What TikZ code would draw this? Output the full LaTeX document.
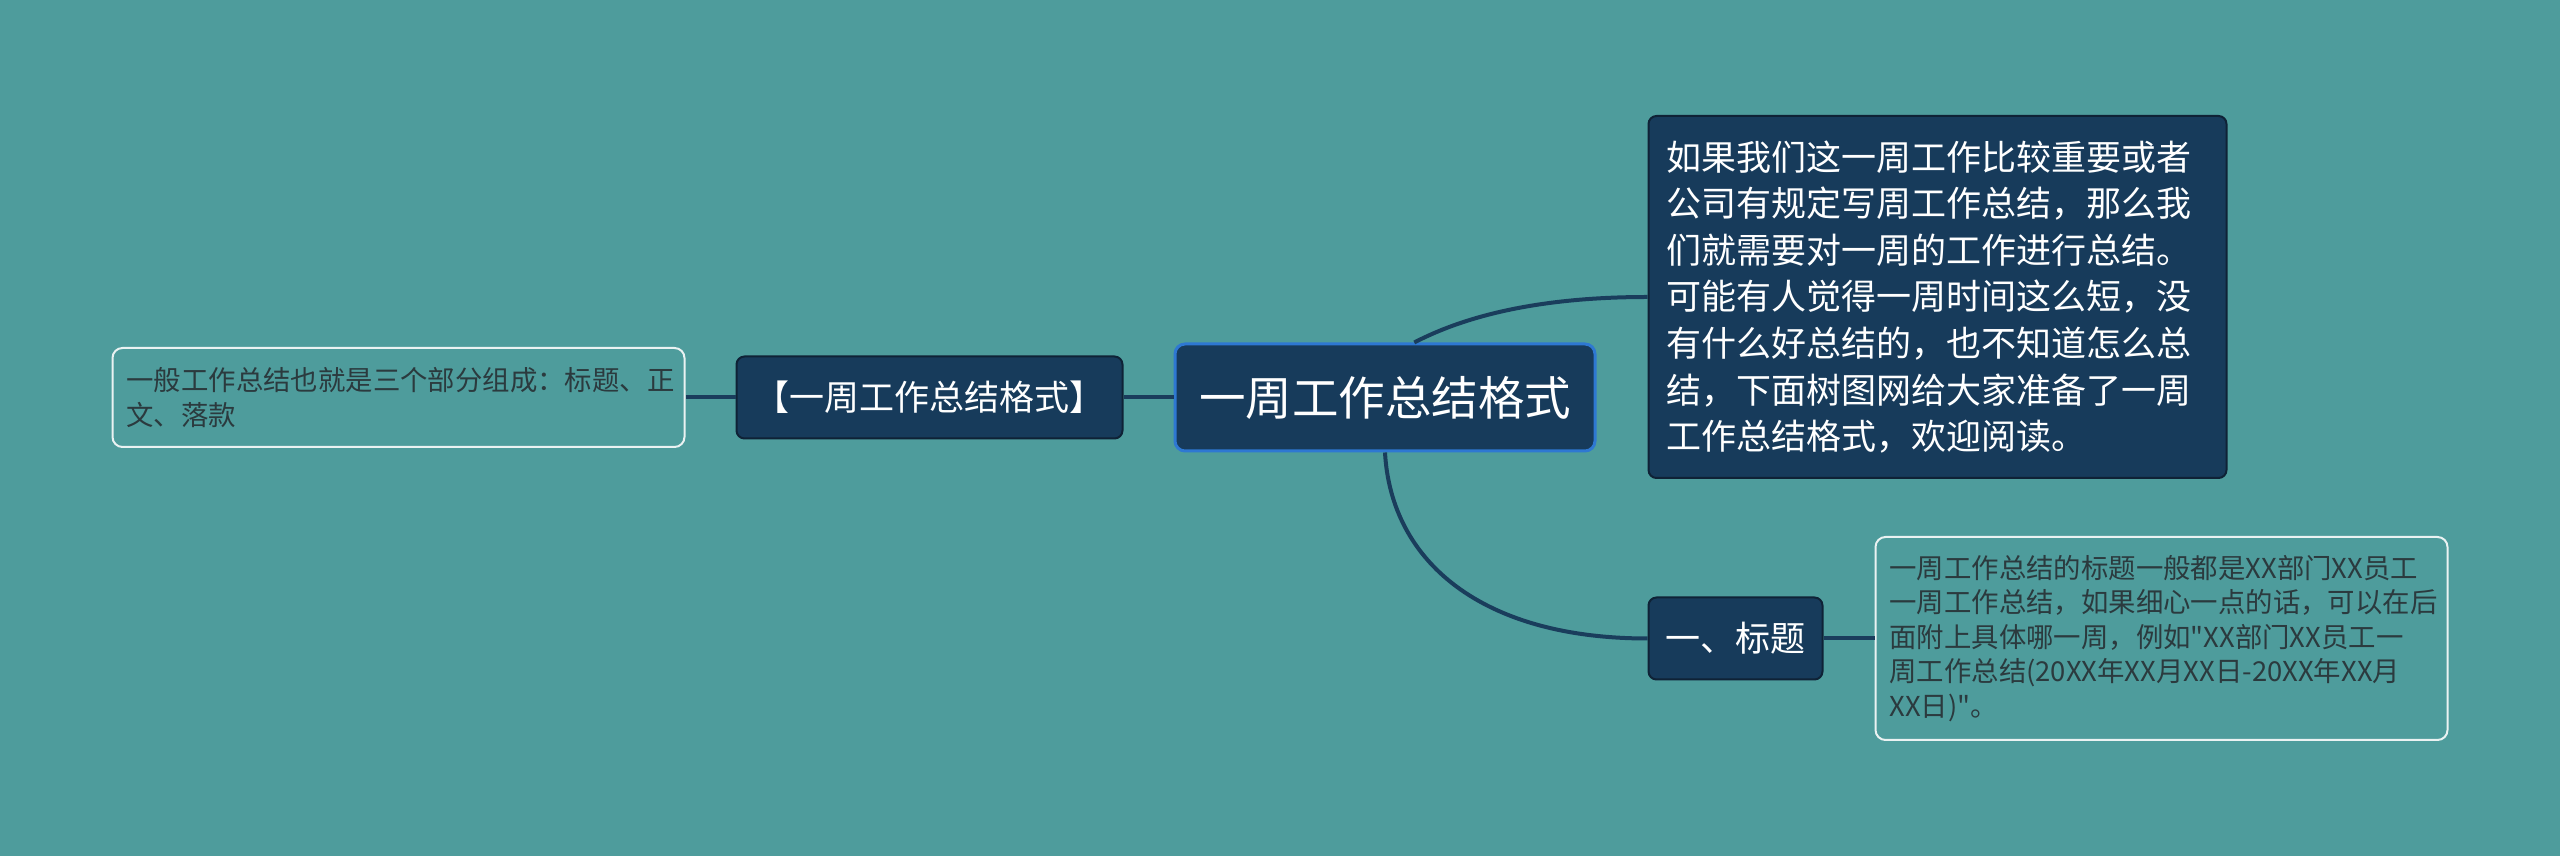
\documentclass[tikz,border=0pt]{standalone}
\usepackage{fontspec}
\usepackage{tikz}
\usetikzlibrary{positioning}
\newfontfamily\cjk{Noto Sans CJK SC}
\definecolor{backdrop}{HTML}{4E9C9C}
\definecolor{navy}{HTML}{173B5B}
\definecolor{mainline}{HTML}{2E78D2}
\definecolor{topicline}{HTML}{0F2236}
\definecolor{linkcolor}{HTML}{1A3D5C}
\definecolor{noteline}{HTML}{EAF2F2}
\definecolor{notetext}{HTML}{2B3A3E}

\begin{document}
\begin{tikzpicture}[
    central/.style={draw=mainline, line width=1.5pt, fill=navy, rounded corners=5pt, text=white, font=\cjk\fontsize{23.25pt}{27pt}\selectfont, minimum width=210pt, minimum height=53.5pt, inner sep=0pt},
    topic/.style={draw=topicline, line width=1pt, fill=navy, rounded corners=4pt, text=white, font=\cjk\fontsize{17.5pt}{20pt}\selectfont, minimum height=41pt, inner sep=0pt},
    detail/.style={draw=topicline, line width=1pt, fill=navy, rounded corners=4pt, text=white, font=\cjk\fontsize{17.5pt}{23.3pt}\selectfont, align=left, text width=271pt, inner xsep=9pt, inner ysep=0pt, minimum height=181pt},
    note/.style={draw=noteline, line width=1pt, fill=backdrop, rounded corners=5pt, text=notetext, font=\cjk\fontsize{13.7pt}{17.3pt}\selectfont, align=left, text width=272pt, inner xsep=7pt, inner ysep=0pt},
    link/.style={line width=2pt, color=linkcolor}
]
    \useasboundingbox (0,0) rectangle (1280pt,428pt);
    \fill[backdrop] (0,0) rectangle (1280pt,428pt);

    \node[central] (main) at (692.5pt,229.25pt) {一周工作总结格式};
    \node[topic, minimum width=193pt, left=25pt of main] (format) {【一周工作总结格式】};
    \node[note, minimum height=49.5pt, left=25pt of format] (formatnote) {一般工作总结也就是三个部分组成：标题、正\\文、落款};

    \node[detail, right=25.5pt of main, yshift=50.25pt] (intro) {如果我们这一周工作比较重要或者\\公司有规定写周工作总结，那么我\\们就需要对一周的工作进行总结。\\可能有人觉得一周时间这么短，没\\有什么好总结的，也不知道怎么总\\结，下面树图网给大家准备了一周\\工作总结格式，欢迎阅读。};
    \node[topic, minimum width=87pt, right=25.5pt of main, yshift=-120.5pt] (title) {一、标题};
    \node[note, minimum height=101.5pt, right=25.5pt of title] (titlenote) {一周工作总结的标题一般都是XX部门XX员工\\一周工作总结，如果细心一点的话，可以在后\\面附上具体哪一周，例如"XX部门XX员工一\\周工作总结(20XX年XX月XX日-20XX年XX月\\XX日)"。};

    \draw[link] (main.west) -- (format.east);
    \draw[link] (format.west) -- (formatnote.east);
    \draw[link] (main.62) .. controls +(25pt,13pt) and +(-55pt,0pt) .. (intro.west);
    \draw[link] (main.south) .. controls +(3pt,-54.5pt) and +(-83pt,0pt) .. (title.west);
    \draw[link] (title.east) -- (titlenote.west);
\end{tikzpicture}
\end{document}
